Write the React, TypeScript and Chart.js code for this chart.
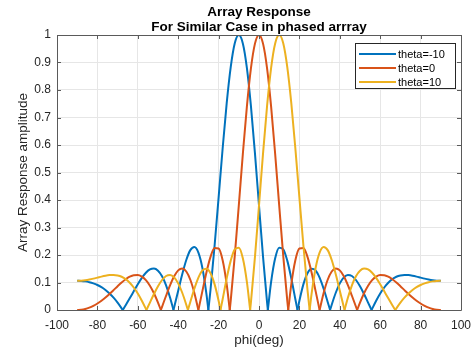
import { useEffect, useRef } from "react";
import { Chart, registerables } from "chart.js";

Chart.register(...registerables);

const titleLines = ["Array Response", "For Similar Case in phased arrray"];
const xAxisTitle = "phi(deg)";
const yAxisTitle = "Array Response amplitude";
const seriesNames = ["theta=-10", "theta=0", "theta=10"];
const seriesColors = ["#0072BD", "#D95319", "#EDB120"];
const xTickValues = [-100, -80, -60, -40, -20, 0, 20, 40, 60, 80, 100];
const yTickValues = [0, 0.1, 0.2, 0.3, 0.4, 0.5, 0.6, 0.7, 0.8, 0.9, 1];

// theta = -10
const phiBlue = [
  -90, -88, -86, -84, -82, -80, -78, -76, -74, -72, -70, -68, -67.46, -66, -64, -62, -60, -58, -56, -54, -52, -50,
  -48, -46, -44, -42.35, -42, -40, -38, -36, -34, -32, -30, -28, -26, -25.07, -24, -22, -20, -18, -16, -14, -12,
  -10, -8, -6, -4, -2, 0, 2, 4, 4.38, 6, 8, 10, 12, 14, 16, 18, 19.05, 20, 22, 24, 26, 28, 30, 32, 34, 35.19, 36,
  38, 40, 42, 44, 46, 48, 50, 52, 54, 55.72, 56, 58, 60, 62, 64, 66, 68, 70, 72, 74, 76, 78, 80, 82, 84, 86, 88, 90,
];
const ampBlue = [
  0.1063, 0.1058, 0.1041, 0.1012, 0.0969, 0.0909, 0.0829, 0.0728, 0.0602, 0.0449, 0.0268, 0.006, 0, 0.0172, 0.0423,
  0.0682, 0.0935, 0.1166, 0.1354, 0.1475, 0.1507, 0.143, 0.1228, 0.0899, 0.0447, 0, 0.0101, 0.0703, 0.1301, 0.1819,
  0.2177, 0.229, 0.2088, 0.1519, 0.0569, 0, 0.0737, 0.2327, 0.4088, 0.5872, 0.7512, 0.8833, 0.97, 1, 0.9695, 0.8808,
  0.7425, 0.5695, 0.38, 0.1932, 0.0277, 0, 0.1024, 0.1881, 0.2265, 0.2208, 0.1796, 0.1147, 0.0393, 0, 0.0338, 0.094,
  0.1339, 0.1504, 0.1438, 0.1174, 0.0771, 0.0293, 0, 0.0192, 0.0627, 0.0967, 0.1185, 0.1273, 0.1236, 0.1091, 0.0863,
  0.058, 0.027, 0, 0.0042, 0.0337, 0.0599, 0.0819, 0.0993, 0.1122, 0.1208, 0.1256, 0.1274, 0.1269, 0.1246, 0.1214,
  0.1177, 0.1141, 0.1109, 0.1084, 0.1068, 0.1063,
];

// theta = 0
const phiRed = [
  -90, -88, -86, -84, -82, -80, -78, -76, -74, -72, -70, -68, -66, -64, -62, -60, -58, -56, -54, -52, -50, -48.59,
  -48, -46, -44, -42, -40, -38, -36, -34, -32, -30, -28, -26, -24, -22, -20, -18, -16, -14.48, -14, -12, -10, -8, -6,
  -4, -2, 0, 2, 4, 6, 8, 10, 12, 14, 14.48, 16, 18, 20, 22, 24, 26, 28, 30, 32, 34, 36, 38, 40, 42, 44, 46, 48, 48.59,
  50, 52, 54, 56, 58, 60, 62, 64, 66, 68, 70, 72, 74, 76, 78, 80, 82, 84, 86, 88, 90,
];
const ampRed = [
  0, 0.001, 0.0038, 0.0086, 0.0153, 0.0237, 0.0339, 0.0456, 0.0586, 0.0723, 0.0863, 0.0997, 0.1116, 0.121, 0.1265,
  0.127, 0.1213, 0.1086, 0.0884, 0.0608, 0.0268, 0, 0.0117, 0.0519, 0.0902, 0.1225, 0.144, 0.1508, 0.1399, 0.11,
  0.0621, 0, 0.0696, 0.1376, 0.1932, 0.2252, 0.2236, 0.181, 0.0943, 0, 0.0342, 0.1966, 0.38, 0.5673, 0.7395, 0.8785,
  0.9686, 1, 0.9686, 0.8785, 0.7395, 0.5673, 0.38, 0.1966, 0.0342, 0, 0.0943, 0.181, 0.2236, 0.2252, 0.1932, 0.1376,
  0.0696, 0, 0.0621, 0.11, 0.1399, 0.1508, 0.144, 0.1225, 0.0902, 0.0519, 0.0117, 0, 0.0268, 0.0608, 0.0884, 0.1086,
  0.1213, 0.127, 0.1265, 0.121, 0.1116, 0.0997, 0.0863, 0.0723, 0.0586, 0.0456, 0.0339, 0.0237, 0.0153, 0.0086,
  0.0038, 0.001, 0,
];

// theta = 10
const phiYellow = [
  -90, -88, -86, -84, -82, -80, -78, -76, -74, -72, -70, -68, -66, -64, -62, -60, -58, -56, -55.72, -54, -52, -50, -48,
  -46, -44, -42, -40, -38, -36, -35.19, -34, -32, -30, -28, -26, -24, -22, -20, -19.05, -18, -16, -14, -12, -10, -8,
  -6, -4.38, -4, -2, 0, 2, 4, 6, 8, 10, 12, 14, 16, 18, 20, 22, 24, 25.07, 26, 28, 30, 32, 34, 36, 38, 40, 42, 42.35,
  44, 46, 48, 50, 52, 54, 56, 58, 60, 62, 64, 66, 67.46, 68, 70, 72, 74, 76, 78, 80, 82, 84, 86, 88, 90,
];
const ampYellow = [
  0.1063, 0.1068, 0.1084, 0.1109, 0.1141, 0.1177, 0.1214, 0.1246, 0.1269, 0.1274, 0.1256, 0.1208, 0.1122, 0.0993,
  0.0819, 0.0599, 0.0337, 0.0042, 0, 0.027, 0.058, 0.0863, 0.1091, 0.1236, 0.1273, 0.1185, 0.0967, 0.0627, 0.0192, 0,
  0.0293, 0.0771, 0.1174, 0.1438, 0.1504, 0.1339, 0.094, 0.0338, 0, 0.0393, 0.1147, 0.1796, 0.2208, 0.2265, 0.1881,
  0.1024, 0, 0.0277, 0.1932, 0.38, 0.5695, 0.7425, 0.8808, 0.9695, 1, 0.97, 0.8833, 0.7512, 0.5872, 0.4088, 0.2327,
  0.0737, 0, 0.0569, 0.1519, 0.2088, 0.229, 0.2177, 0.1819, 0.1301, 0.0703, 0.0101, 0, 0.0447, 0.0899, 0.1228, 0.143,
  0.1507, 0.1475, 0.1354, 0.1166, 0.0935, 0.0682, 0.0423, 0.0172, 0, 0.006, 0.0268, 0.0449, 0.0602, 0.0728, 0.0829,
  0.0909, 0.0969, 0.1012, 0.1041, 0.1058, 0.1063,
];

const FONT = "'Liberation Sans', Arial, sans-serif";
const TEXT = "#262626";

// Split a series into lobes at its nulls so each lobe is smoothed on its own
// while the nulls stay sharp.
const splitLobes = (xs: number[], ys: number[]) => {
  const lobes: { x: number; y: number }[][] = [];
  let cur: { x: number; y: number }[] = [];
  xs.forEach((x, i) => {
    const p = { x, y: ys[i] };
    cur.push(p);
    if (ys[i] === 0 && cur.length > 1) {
      lobes.push(cur);
      cur = [p];
    }
  });
  if (cur.length > 1) lobes.push(cur);
  return lobes;
};

const decorPlugin = {
  id: "matlabDecor",
  afterDraw(chart: any) {
    const { ctx, chartArea } = chart;
    const { left, right, top, bottom } = chartArea;
    const xs = chart.scales.x;
    const ys = chart.scales.y;
    ctx.save();
    ctx.strokeStyle = "#5a5a5a";
    ctx.lineWidth = 1;
    ctx.beginPath();
    ctx.rect(Math.round(left) + 0.5, Math.round(top) + 0.5, Math.round(right - left), Math.round(bottom - top));
    ctx.stroke();
    ctx.beginPath();
    xTickValues.forEach((v) => {
      const px = Math.round(xs.getPixelForValue(v)) + 0.5;
      ctx.moveTo(px, bottom);
      ctx.lineTo(px, bottom - 4);
      ctx.moveTo(px, top);
      ctx.lineTo(px, top + 4);
    });
    yTickValues.forEach((v) => {
      const py = Math.round(ys.getPixelForValue(v)) + 0.5;
      ctx.moveTo(left, py);
      ctx.lineTo(left + 4, py);
      ctx.moveTo(right, py);
      ctx.lineTo(right - 4, py);
    });
    ctx.stroke();

    ctx.fillStyle = "#000";
    ctx.textAlign = "center";
    ctx.textBaseline = "middle";
    ctx.font = `bold 13.5px ${FONT}`;
    const cx = (left + right) / 2;
    ctx.fillText(titleLines[0], cx, 12);
    ctx.fillText(titleLines[1], cx, 27);

    ctx.fillStyle = TEXT;
    ctx.font = `13.5px ${FONT}`;
    ctx.fillText(xAxisTitle, cx, 340);
    ctx.save();
    ctx.translate(23, (top + bottom) / 2);
    ctx.rotate(-Math.PI / 2);
    ctx.fillText(yAxisTitle, 0, 0);
    ctx.restore();

    const lx = 355.5, ly = 43.5, lw = 100, lh = 45;
    ctx.fillStyle = "#fff";
    ctx.fillRect(lx, ly, lw, lh);
    ctx.strokeStyle = "#262626";
    ctx.lineWidth = 1;
    ctx.strokeRect(lx, ly, lw, lh);
    ctx.font = `11px ${FONT}`;
    ctx.textAlign = "left";
    seriesNames.forEach((name, i) => {
      const yy = 54 + i * 14;
      ctx.strokeStyle = seriesColors[i];
      ctx.lineWidth = 2;
      ctx.beginPath();
      ctx.moveTo(359, yy);
      ctx.lineTo(396, yy);
      ctx.stroke();
      ctx.fillStyle = "#000";
      ctx.fillText(name, 398, yy + 0.5);
    });
    ctx.restore();
  },
};

export default function App() {
  const canvasRef = useRef<HTMLCanvasElement | null>(null);

  useEffect(() => {
    const canvas = canvasRef.current;
    if (!canvas) return;
    const series = [
      { xs: phiBlue, ys: ampBlue, order: 2 },
      { xs: phiRed, ys: ampRed, order: 1 },
      { xs: phiYellow, ys: ampYellow, order: 0 },
    ];
    const datasets: any[] = [];
    series.forEach((s, si) => {
      splitLobes(s.xs, s.ys).forEach((lobe) => {
        datasets.push({
          label: seriesNames[si],
          data: lobe,
          borderColor: seriesColors[si],
          borderWidth: 2,
          pointRadius: 0,
          cubicInterpolationMode: "monotone",
          fill: false,
          order: s.order,
        });
      });
    });
    const chart = new Chart(canvas, {
      type: "line",
      data: { datasets },
      options: {
        animation: false,
        responsive: false,
        devicePixelRatio: 1,
        layout: { padding: { top: 35, right: 14, left: 0, bottom: 0 } },
        plugins: { legend: { display: false }, title: { display: false }, tooltip: { enabled: false } },
        scales: {
          x: {
            type: "linear",
            min: -100,
            max: 100,
            afterBuildTicks: (s: any) => {
              s.ticks = xTickValues.map((v) => ({ value: v }));
            },
            afterFit: (s: any) => {
              s.height = 39;
            },
            ticks: {
              color: TEXT,
              font: { size: 12, family: FONT },
              padding: 2,
              maxRotation: 0,
              autoSkip: false,
              callback: (v: any) => String(v),
            },
            grid: { color: "#e6e6e6", drawTicks: true, tickLength: 6, tickColor: "rgba(0,0,0,0)" },
            border: { display: false },
          },
          y: {
            type: "linear",
            min: 0,
            max: 1,
            afterBuildTicks: (s: any) => {
              s.ticks = yTickValues.map((v) => ({ value: v }));
            },
            afterFit: (s: any) => {
              s.width = 57;
            },
            ticks: {
              color: TEXT,
              font: { size: 12, family: FONT },
              padding: 6,
              autoSkip: false,
              callback: (v: any) => String(v),
            },
            grid: { color: "#e6e6e6", drawTicks: false },
            border: { display: false },
          },
        },
      },
      plugins: [decorPlugin],
    });
    return () => chart.destroy();
  }, []);

  return (
    <div style={{ position: "fixed", left: 0, top: 0, width: 475, height: 349, background: "#fff" }}>
      <canvas ref={canvasRef} width={475} height={349} style={{ display: "block" }} />
    </div>
  );
}
